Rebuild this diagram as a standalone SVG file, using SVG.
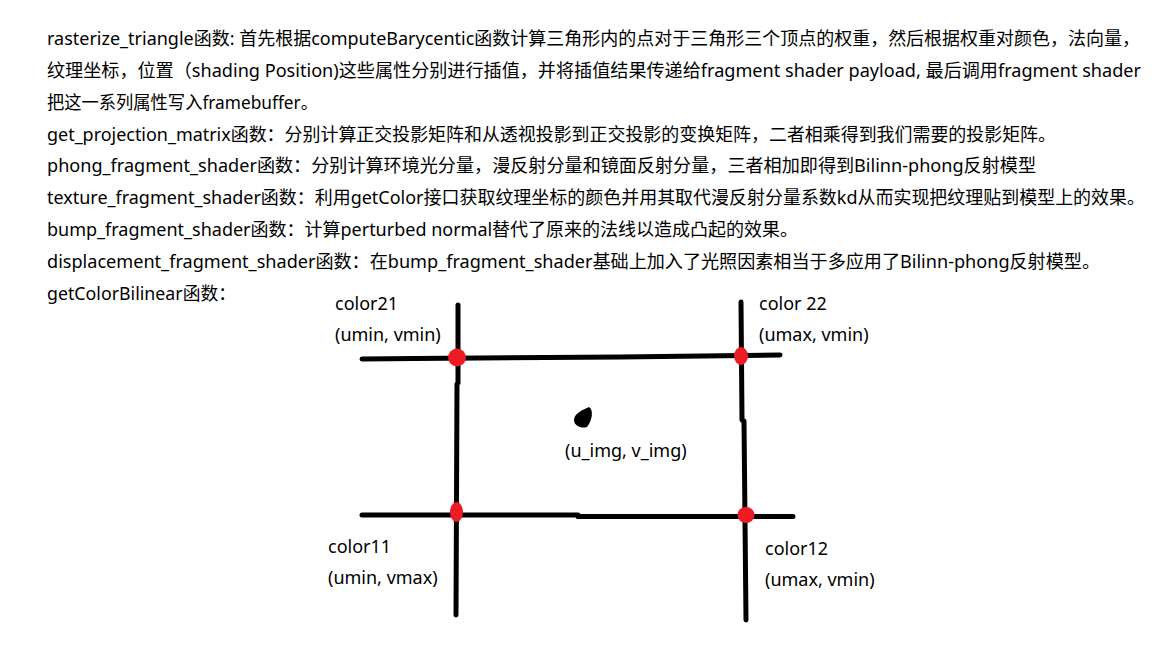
<svg xmlns="http://www.w3.org/2000/svg" width="1152" height="648" viewBox="0 0 1152 648">
  <style>
    .t { font-family: "Noto Sans", "Noto Sans CJK SC", sans-serif; font-size: 18px; fill: #000; }
    .pen { fill: none; stroke: #000; stroke-width: 5; stroke-linecap: round; stroke-linejoin: round; }
    .dot { fill: #ed1c24; }
  </style>
  <rect width="1152" height="648" fill="#fff"/>

  <g id="description">
    <text class="t" x="47" y="45" textLength="1093" lengthAdjust="spacingAndGlyphs">rasterize_triangle函数: 首先根据computeBarycentic函数计算三角形内的点对于三角形三个顶点的权重，然后根据权重对颜色，法向量，</text>
    <text class="t" x="47" y="77" textLength="1094" lengthAdjust="spacingAndGlyphs">纹理坐标，位置（shading Position)这些属性分别进行插值，并将插值结果传递给fragment shader payload, 最后调用fragment shader</text>
    <text class="t" x="47" y="108.5" textLength="271" lengthAdjust="spacingAndGlyphs">把这一系列属性写入framebuffer。</text>
    <text class="t" x="47" y="140.5" textLength="1009" lengthAdjust="spacingAndGlyphs">get_projection_matrix函数：分别计算正交投影矩阵和从透视投影到正交投影的变换矩阵，二者相乘得到我们需要的投影矩阵。</text>
    <text class="t" x="47" y="172" textLength="989" lengthAdjust="spacingAndGlyphs">phong_fragment_shader函数：分别计算环境光分量，漫反射分量和镜面反射分量，三者相加即得到Bilinn-phong反射模型</text>
    <text class="t" x="47" y="204" textLength="1098" lengthAdjust="spacingAndGlyphs">texture_fragment_shader函数：利用getColor接口获取纹理坐标的颜色并用其取代漫反射分量系数kd从而实现把纹理贴到模型上的效果。</text>
    <text class="t" x="47" y="236" textLength="751" lengthAdjust="spacingAndGlyphs">bump_fragment_shader函数：计算perturbed normal替代了原来的法线以造成凸起的效果。</text>
    <text class="t" x="47" y="268" textLength="1053" lengthAdjust="spacingAndGlyphs">displacement_fragment_shader函数：在bump_fragment_shader基础上加入了光照因素相当于多应用了Bilinn-phong反射模型。</text>
    <text class="t" x="47" y="300" textLength="189" lengthAdjust="spacingAndGlyphs">getColorBilinear函数：</text>
  </g>

  <g id="connectors">
    <polyline class="pen" points="362,359 415,358.5 620,357 780,355"/>
    <polyline class="pen" points="362,515 578,515 578,516.5 793,516.5"/>
    <polyline class="pen" points="458,305 458,383 457,384 456,615"/>
    <polyline class="pen" points="741,302 742,420 744,421 746,620"/>
  </g>

  <g id="color21">
    <ellipse class="dot" cx="457" cy="357.5" rx="9" ry="9"/>
    <text class="t" x="335" y="310">color21</text>
    <text class="t" x="335" y="341">(umin, vmin)</text>
  </g>

  <g id="color22">
    <ellipse class="dot" cx="741" cy="356" rx="7" ry="9"/>
    <text class="t" x="759" y="310">color 22</text>
    <text class="t" x="759" y="341">(umax, vmin)</text>
  </g>

  <g id="color11">
    <ellipse class="dot" cx="456.5" cy="512" rx="6.5" ry="10"/>
    <text class="t" x="328" y="553">color11</text>
    <text class="t" x="328" y="584">(umin, vmax)</text>
  </g>

  <g id="color12">
    <ellipse class="dot" cx="746" cy="515" rx="8.5" ry="8"/>
    <text class="t" x="765" y="555">color12</text>
    <text class="t" x="765" y="586">(umax, vmin)</text>
  </g>

  <g id="sample-point">
    <path d="M589,407 C594,410 592,421 587,427 C582,429 574,426 574,420 C574,414 582,410 589,407 Z" fill="#000"/>
    <text class="t" x="565" y="457">(u_img, v_img)</text>
  </g>
</svg>
